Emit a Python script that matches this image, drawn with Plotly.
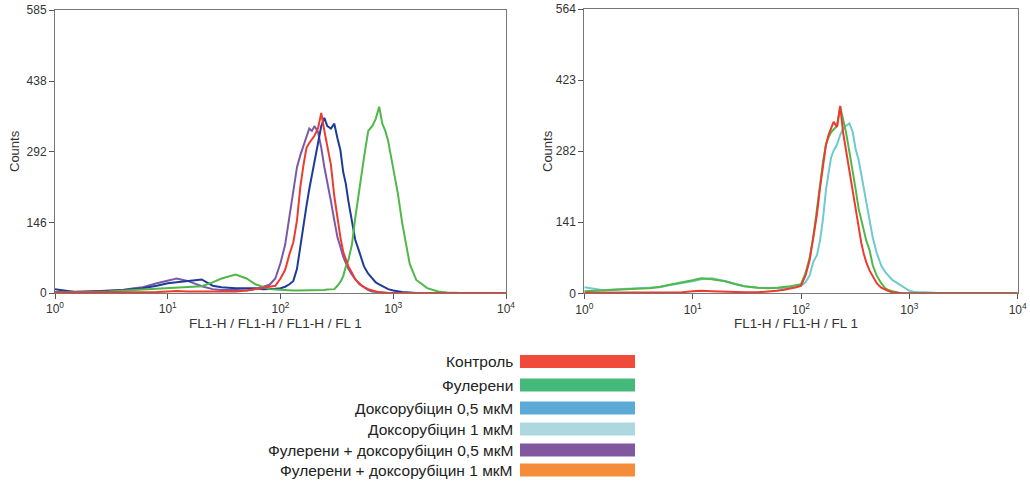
import plotly.graph_objects as go

W, H = 1030, 481

# FL1 channel grid (common for all histograms)
fl1 = [1, 1.5, 2, 3, 4, 5, 6, 8, 10, 12, 15, 20, 25, 30, 40, 50, 60, 70, 80, 90,
       100, 110, 120, 130, 140, 150, 160, 170, 180, 190, 200, 215, 230, 245, 260, 280,
       300, 320, 340, 360, 380, 400, 430, 460, 500, 550, 600, 650, 700, 750, 800, 850,
       900, 1000, 1100, 1200, 1400, 1600, 2000, 2500, 3000, 4000, 10000]

# Left panel counts
left_control = [1, 1, 1, 1, 1, 1, 1, 2, 3, 4, 3, 3, 2, 2, 3, 5, 8, 10, 12, 15,
                30, 48, 80, 105, 150, 220, 265, 300, 310, 318, 325, 340, 372, 335, 306, 265,
                200, 150, 115, 85, 70, 55, 42, 28, 20, 12, 8, 5, 3, 1, 1, 0,
                0, 0, 0, 0, 0, 0, 0, 0, 0, 0, 0]
left_fullerene = [1, 1, 2, 3, 4, 6, 7, 9, 10, 11, 12, 14, 22, 30, 38, 30, 18, 12, 8, 7,
                  6, 6, 5, 5, 5, 5, 5, 5, 5, 5, 6, 6, 6, 6, 7, 7,
                  8, 15, 23, 35, 55, 68, 100, 155, 215, 280, 335, 345, 360, 385, 350, 335,
                  315, 255, 205, 145, 60, 27, 10, 3, 1, 0, 0]
left_doxo05 = [8, 2, 3, 4, 6, 8, 10, 15, 20, 22, 24, 28, 15, 12, 10, 10, 10, 8, 8, 9,
               10, 13, 18, 25, 50, 100, 140, 180, 215, 245, 275, 310, 345, 362, 345, 340,
               350, 320, 295, 250, 225, 190, 145, 110, 85, 55, 40, 30, 22, 18, 14, 10,
               8, 5, 3, 2, 1, 0, 0, 0, 0, 0, 0]
left_full_doxo05 = [2, 2, 3, 4, 6, 10, 12, 20, 25, 30, 25, 14, 8, 6, 6, 5, 8, 12, 17, 30,
                    62, 100, 155, 205, 260, 285, 305, 325, 340, 335, 345, 333, 300, 260, 225, 190,
                    150, 115, 95, 75, 62, 50, 38, 28, 18, 12, 6, 3, 2, 1, 1, 0,
                    0, 0, 0, 0, 0, 0, 0, 0, 0, 0, 0]

# Right panel counts
right_control = [1, 1, 1, 1, 1, 1, 1, 2, 4, 5, 4, 3, 2, 2, 2, 3, 5, 7, 9, 12,
                 15, 35, 65, 109, 155, 210, 258, 295, 315, 330, 340, 330, 372, 318, 285, 245,
                 200, 165, 128, 100, 78, 62, 45, 33, 20, 11, 7, 4, 2, 1, 0, 0,
                 0, 0, 0, 0, 0, 0, 0, 0, 0, 0, 0]
right_fullerene = [4, 5, 7, 9, 10, 13, 17, 22, 26, 30, 28, 24, 18, 14, 11, 10, 11, 12, 14, 16,
                   18, 40, 70, 112, 160, 215, 262, 295, 310, 320, 325, 332, 370, 345, 320, 280,
                   245, 205, 168, 145, 122, 105, 85, 55, 35, 20, 10, 6, 4, 2, 1, 0,
                   0, 0, 0, 0, 0, 0, 0, 0, 0, 0, 0]
right_doxo1 = [12, 6, 8, 10, 10, 12, 16, 20, 24, 28, 30, 24, 18, 14, 11, 10, 10, 10, 11, 12,
               15, 22, 35, 63, 75, 105, 150, 205, 240, 270, 283, 295, 314, 327, 332, 337,
               320, 285, 265, 235, 205, 175, 145, 110, 80, 55, 42, 33, 26, 22, 18, 14,
               10, 5, 3, 2, 2, 1, 0, 0, 0, 0, 0]

left_yticks = [0, 146, 292, 438, 585]
right_yticks = [0, 141, 282, 423, 564]
x_tickvals = [1, 10, 100, 1000, 10000]
x_ticktext = ["10<sup>0</sup>", "10<sup>1</sup>", "10<sup>2</sup>", "10<sup>3</sup>", "10<sup>4</sup>"]

legend_labels = ["Контроль", "Фулерени", "Доксорубіцин 0,5 мкМ", "Доксорубіцин 1 мкМ",
                 "Фулерени + доксорубіцин 0,5 мкМ", "Фулерени + доксорубіцин 1 мкМ"]
legend_colors = ["#f04a3a", "#45b97c", "#5baad8", "#aed8df", "#8158a0", "#f48c3a"]

RED, GREEN, NAVY, PURPLE, CYAN = "#ee3b2f", "#4fb848", "#1d3c99", "#7a5aa8", "#6dcbcf"
FONT = "Liberation Sans, Arial, sans-serif"

fig = go.Figure()

def add(x, y, color, xa, ya):
    fig.add_trace(go.Scatter(x=x, y=y, mode="lines", line=dict(color=color, width=2),
                             xaxis=xa, yaxis=ya, showlegend=False, hoverinfo="skip"))

add(fl1, left_full_doxo05, PURPLE, "x", "y")
add(fl1, left_doxo05, NAVY, "x", "y")
add(fl1, left_fullerene, GREEN, "x", "y")
add(fl1, left_control, RED, "x", "y")

add(fl1, right_doxo1, CYAN, "x2", "y2")
add(fl1, right_fullerene, GREEN, "x2", "y2")
add(fl1, right_control, RED, "x2", "y2")

tickfont = dict(family=FONT, size=12, color="#333")
axcommon = dict(showline=True, mirror=True, linecolor="#777", linewidth=1, showgrid=False,
                zeroline=False, ticks="outside", ticklen=5, tickcolor="#555", tickfont=tickfont,
                automargin=False)

fig.update_layout(
    width=W, height=H, autosize=False, margin=dict(l=0, r=0, t=0, b=0, pad=0),
    showlegend=False,
    paper_bgcolor="white", plot_bgcolor="white",
    xaxis=dict(type="log", range=[0, 4], domain=[55 / W, 506 / W], anchor="y",
               tickvals=x_tickvals, ticktext=x_ticktext, **axcommon),
    yaxis=dict(range=[0, 585], domain=[1 - 293 / H, 1 - 10 / H], anchor="x",
               tickvals=left_yticks, **axcommon),
    xaxis2=dict(type="log", range=[0, 4], domain=[584.3 / W, 1017.7 / W], anchor="y2",
                tickvals=x_tickvals, ticktext=x_ticktext, **axcommon),
    yaxis2=dict(range=[0, 564], domain=[1 - 293.3 / H, 1 - 9 / H], anchor="x2",
                tickvals=right_yticks, **axcommon),
)

ann = [
    dict(text="Counts", x=14 / W, y=1 - 151 / H, textangle=-90,
         font=dict(family=FONT, size=13, color="#333")),
    dict(text="Counts", x=547 / W, y=1 - 151 / H, textangle=-90,
         font=dict(family=FONT, size=13, color="#333")),
    dict(text="FL1-H / FL1-H / FL1-H / FL 1", x=275.5 / W, y=1 - 323 / H,
         font=dict(family=FONT, size=13.5, color="#333")),
    dict(text="FL1-H / FL1-H / FL 1", x=796 / W, y=1 - 323 / H,
         font=dict(family=FONT, size=13.5, color="#333")),
]
for a in ann:
    a.update(xref="paper", yref="paper", showarrow=False, xanchor="center", yanchor="middle")

row_y = [361.5, 385, 408, 429, 450, 470]
shapes = []
for lab, col, yc in zip(legend_labels, legend_colors, row_y):
    shapes.append(dict(type="rect", xref="paper", yref="paper",
                       x0=520 / W, x1=635 / W, y0=1 - (yc + 6.5) / H, y1=1 - (yc - 6.5) / H,
                       fillcolor=col, line=dict(width=0)))
    ann.append(dict(text=lab, x=515 / W, y=1 - yc / H, xref="paper", yref="paper",
                    showarrow=False, xanchor="right", yanchor="middle",
                    font=dict(family=FONT, size=15.5, color="#222")))

fig.update_layout(annotations=ann, shapes=shapes)
fig.write_html("out.html", config={"responsive": False, "displayModeBar": False},
               post_script="document.body.style.margin='0';document.body.style.overflow='hidden';")
